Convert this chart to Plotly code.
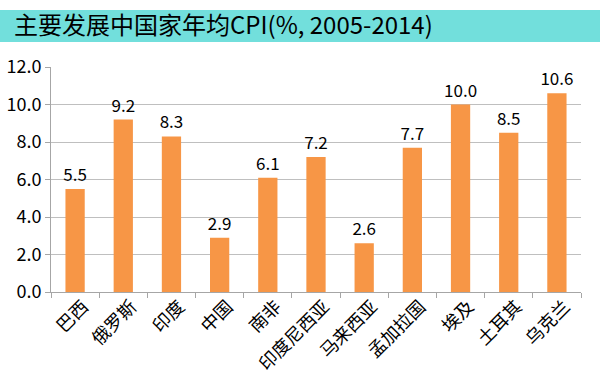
import plotly.graph_objects as go

categories = ["巴西", "俄罗斯", "印度", "中国", "南非", "印度尼西亚", "马来西亚", "孟加拉国", "埃及", "土耳其", "乌克兰"]
cpi_values = [5.5, 9.2, 8.3, 2.9, 6.1, 7.2, 2.6, 7.7, 10.0, 8.5, 10.6]
y_ticks = [0, 2, 4, 6, 8, 10, 12]
title_text = "主要发展中国家年均CPI(%, 2005-2014)"

FONT = "Noto Sans CJK SC"
W, H = 600, 374
L, R, T, B = 51, 19, 67, 82
pw, ph = W - L - R, H - T - B

fig = go.Figure(go.Bar(
    x=categories, y=cpi_values,
    marker=dict(color="#F79646", line=dict(width=0)),
    text=[f"{v:.1f}" for v in cpi_values],
    textposition="outside",
    constraintext="none",
    textfont=dict(family=FONT, size=17, color="#000000"),
    cliponaxis=False,
    hoverinfo="skip",
))

fig.update_layout(
    width=W, height=H,
    margin=dict(l=L, r=R, t=T, b=B, autoexpand=False),
    paper_bgcolor="white", plot_bgcolor="white",
    bargap=0.6,
    showlegend=False,
    font=dict(family=FONT, color="#000000"),
    title=dict(text=title_text, x=14 / W, xanchor="left", y=1 - 26 / H, yanchor="middle",
               font=dict(family=FONT, size=24, color="#000000")),
    shapes=[dict(type="rect", xref="paper", yref="paper",
                 x0=-L / pw, x1=(W - L) / pw,
                 y0=(H - B - 42) / ph, y1=(H - B - 10) / ph,
                 fillcolor="#72DFDC", line=dict(width=0), layer="below")],
    xaxis=dict(
        automargin=False,
        showline=True, linecolor="#A6A6A6", linewidth=1,
        ticks="outside", ticklen=5, tickcolor="#A6A6A6",
        tickson="boundaries",
        tickangle=-45,
        ticklabelshift=8,
        ticklabelstandoff=-4,
        tickfont=dict(family=FONT, size=18, color="#000000"),
        showgrid=False,
    ),
    yaxis=dict(
        automargin=False,
        range=[0, 12], tickvals=y_ticks, ticktext=[f"{v:.1f}" for v in y_ticks],
        showline=True, linecolor="#A6A6A6", linewidth=1,
        ticks="outside", ticklen=5, tickcolor="#A6A6A6",
        showgrid=True, gridcolor="#BFBFBF", gridwidth=1,
        tickfont=dict(family=FONT, size=18, color="#000000"),
        zeroline=False,
    ),
)

fig.write_html("out.html", config={"displayModeBar": False},
               post_script="document.body.style.margin='0';document.body.style.overflow='hidden';")
